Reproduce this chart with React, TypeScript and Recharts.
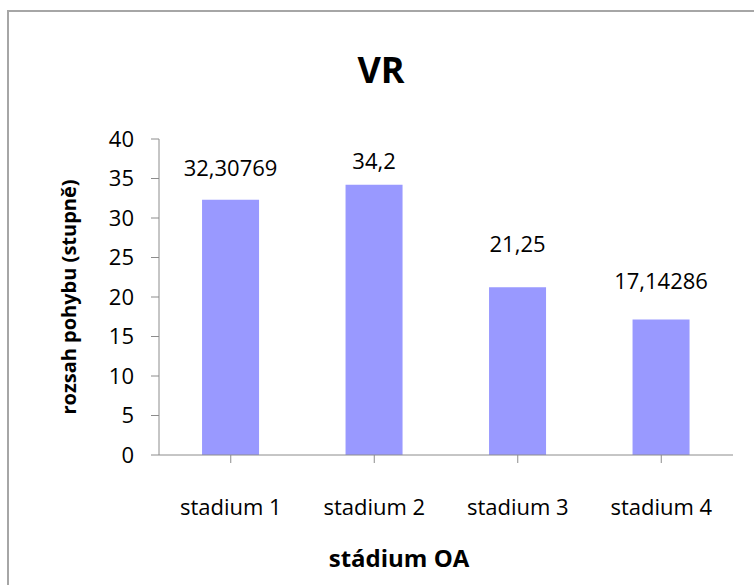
import { Bar, BarChart, LabelList, XAxis, YAxis } from "recharts";

const categories = ["stadium 1", "stadium 2", "stadium 3", "stadium 4"];
const values = [32.30769, 34.2, 21.25, 17.14286];
const valueLabels = ["32,30769", "34,2", "21,25", "17,14286"];
const yTicks = [0, 5, 10, 15, 20, 25, 30, 35, 40];

// how far above each bar its label sits (px), as in the original
const labelGap = [33, 25, 44, 40];

const data = categories.map((name, i) => ({
  name,
  value: values[i],
  label: valueLabels[i],
}));

const FONT = "'Open Sans', sans-serif";
const AXIS = "#8c8c8c";

function ValueLabel(props: any) {
  const { x, y, width, index, value } = props;
  const gap = labelGap[index] ?? 30;
  return (
    <text
      x={x + width / 2}
      y={y - gap}
      textAnchor="middle"
      dominantBaseline="central"
      fontFamily={FONT}
      fontSize={22}
      fill="#000"
    >
      {value}
    </text>
  );
}

function YTitle({ viewBox }: any) {
  const cx = viewBox.x + 29;
  const cy = viewBox.y + viewBox.height / 2;
  return (
    <text
      x={cx}
      y={cy}
      transform={`rotate(-90 ${cx} ${cy})`}
      textAnchor="middle"
      dominantBaseline="central"
      fontFamily={FONT}
      fontWeight="bold"
      fontSize={20}
      fill="#000"
    >
      rozsah pohybu (stupně)
    </text>
  );
}

function XTitle({ viewBox }: any) {
  return (
    <text
      x={viewBox.x + 240}
      y={viewBox.y + 102}
      textAnchor="middle"
      dominantBaseline="central"
      fontFamily={FONT}
      fontWeight="bold"
      fontSize={24}
      fill="#000"
    >
      stádium OA
    </text>
  );
}

export default function App() {
  return (
    <div
      style={{
        position: "absolute",
        left: 0,
        top: 0,
        width: 754,
        height: 585,
        overflow: "hidden",
        background: "#fff",
      }}
    >
      <div
        style={{
          position: "absolute",
          left: 7,
          top: 10,
          width: 800,
          height: 700,
          borderLeft: "2px solid #a6a6a6",
          borderTop: "2px solid #a6a6a6",
        }}
      />
      <div
        style={{
          position: "absolute",
          left: 0,
          top: 50,
          width: 762,
          textAlign: "center",
          fontFamily: FONT,
          fontWeight: "bold",
          fontSize: 36,
          lineHeight: "40px",
        }}
      >
        VR
      </div>
      <BarChart
        width={754}
        height={585}
        data={data}
        margin={{ top: 139, right: 21, bottom: 30, left: 39 }}
        barCategoryGap="30%"
        style={{ position: "absolute", left: 0, top: 0 }}
      >
        <XAxis
          dataKey="name"
          height={100}
          stroke={AXIS}
          tickSize={8}
          tickMargin={36}
          tick={{ fill: "#000", fontFamily: FONT, fontSize: 22 }}
          label={<XTitle />}
        />
        <YAxis
          width={120}
          domain={[0, 40]}
          ticks={yTicks}
          stroke={AXIS}
          tickSize={8}
          tickMargin={17}
          tick={{ fill: "#000", fontFamily: FONT, fontSize: 22 }}
          label={<YTitle />}
        />
        <Bar dataKey="value" fill="#9999ff" isAnimationActive={false}>
          <LabelList dataKey="label" content={<ValueLabel />} />
        </Bar>
      </BarChart>
    </div>
  );
}
